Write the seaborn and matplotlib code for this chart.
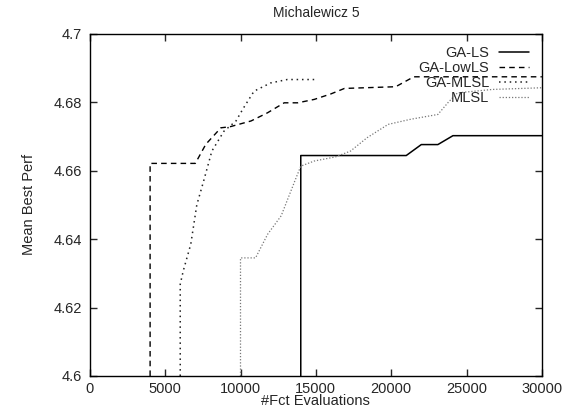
import matplotlib
matplotlib.use("Agg")
import matplotlib.pyplot as plt
import seaborn as sns
import pandas as pd

# GA-LS (solid)
ga_ls_x = [14000, 14000, 21000, 22000, 23100, 24100, 30000]
ga_ls_y = [4.600, 4.6644, 4.6644, 4.6676, 4.6676, 4.6702, 4.6702]

# GA-LowLS (dashed)
ga_lowls_x = [4000, 4000, 7000, 7700, 8700, 9300, 10700, 11800, 12900, 13800, 14900, 16000, 16900, 20300, 21500, 30000]
ga_lowls_y = [4.600, 4.6621, 4.6621, 4.6677, 4.6725, 4.6728, 4.6745, 4.6769, 4.6798, 4.6798, 4.6808, 4.6824, 4.6840, 4.6845, 4.6874, 4.6874]

# GA-MLSL (dotted)
ga_mlsl_x = [6000, 6000, 6200, 6700, 7100, 7550, 8100, 8900, 9700, 10200, 10900, 12000, 13100, 15000]
ga_mlsl_y = [4.600, 4.6268, 4.6307, 4.6385, 4.6500, 4.6569, 4.6657, 4.6715, 4.6745, 4.6783, 4.6832, 4.6856, 4.6866, 4.6866]

# MLSL (light dotted)
mlsl_x = [10000, 10000, 11000, 11800, 12700, 13600, 14000, 14900, 16300, 17300, 18400, 19800, 21300, 23100, 23800, 24400, 26700, 30000]
mlsl_y = [4.600, 4.6345, 4.6345, 4.6414, 4.6468, 4.6569, 4.6613, 4.6628, 4.6640, 4.6657, 4.6696, 4.6735, 4.6750, 4.6764, 4.6800, 4.6827, 4.6837, 4.6842]

x_ticks = [0, 5000, 10000, 15000, 20000, 25000, 30000]
y_ticks = [4.60, 4.62, 4.64, 4.66, 4.68, 4.70]
y_tick_labels = ["4.6", "4.62", "4.64", "4.66", "4.68", "4.7"]

sns.set_theme(style="ticks")
plt.rcParams['font.family'] = ['Liberation Sans', 'DejaVu Sans']

fig = plt.figure(figsize=(5.65, 4.09), dpi=100)
ax = fig.add_axes([0.159, 0.0807, 0.8, 0.837])

series = [
    ("GA-LS", ga_ls_x, ga_ls_y, dict(color="black", linestyle="-", linewidth=1.1)),
    ("GA-LowLS", ga_lowls_x, ga_lowls_y, dict(color="black", linestyle=(0, (4, 3)), linewidth=1.0)),
    ("GA-MLSL", ga_mlsl_x, ga_mlsl_y, dict(color="#222222", linestyle=(0, (1, 2.5)), linewidth=1.1)),
    ("MLSL", mlsl_x, mlsl_y, dict(color="#777777", linestyle=(0, (1, 1.5)), linewidth=0.9)),
]
for name, xs, ys, style in series:
    df = pd.DataFrame({"x": xs, "y": ys})
    sns.lineplot(data=df, x="x", y="y", ax=ax, estimator=None, sort=False, label=name, **style)

ax.set_xlim(0, 30000)
ax.set_ylim(4.6, 4.7)
ax.set_xticks(x_ticks)
ax.set_xticklabels([str(t) for t in x_ticks])
ax.set_yticks(y_ticks)
ax.set_yticklabels(y_tick_labels)
ax.tick_params(direction="in", top=True, right=True, labelsize=10.5, length=5, width=1, pad=6)
ax.tick_params(axis="x", pad=4)
for s in ax.spines.values():
    s.set_linewidth(1.0)
    s.set_color("black")

ax.set_title("Michalewicz 5", fontsize=10, pad=12)
ax.set_xlabel("#Fct Evaluations", fontsize=10.5, labelpad=-1)
ax.set_ylabel("Mean Best Perf", fontsize=10.5, labelpad=12)

leg = ax.legend(loc="upper right", bbox_to_anchor=(0.99, 0.99), frameon=False, markerfirst=False,
                fontsize=10.5, handlelength=2.0, handletextpad=0.7, labelspacing=0.08, borderaxespad=0.2)

fig.savefig("out.png", dpi=100)
